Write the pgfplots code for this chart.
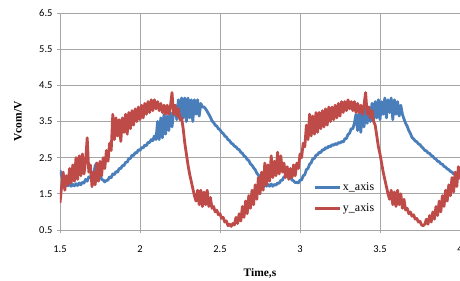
\documentclass[border=0pt]{standalone}
\usepackage{pgfplots}
\pgfplotsset{compat=1.18}
\usepackage{fontspec}
\setmainfont{Liberation Serif}
\newfontfamily\carlito{Carlito}
\definecolor{xblue}{HTML}{4A7EBB}
\definecolor{yred}{HTML}{BE4B48}
\definecolor{gridgray}{HTML}{A6A6A6}
\begin{document}
\begin{tikzpicture}
\begin{axis}[
  scale only axis, width=400bp, height=217bp,
  xmin=1.5, xmax=4, ymin=0.5, ymax=6.5,
  xtick={1.5,2,2.5,3,3.5,4}, ytick={0.5,1.5,2.5,3.5,4.5,5.5,6.5},
  xticklabels={1.5,2,2.5,3,3.5,4},
  yticklabels={0.5,1.5,2.5,3.5,4.5,5.5,6.5},
  grid=major, grid style={gridgray, line width=0.8bp},
  axis line style={gridgray, line width=0.8bp},
  tick style={gridgray, line width=0.8bp},
  tick align=outside, major tick length=3bp, tick pos=left,
  tick label style={font=\carlito\fontsize{10.5}{12}\selectfont, black},
  /pgf/number format/assume math mode=true,
  xticklabel style={yshift=-9bp},
  yticklabel style={xshift=-1bp},
  xlabel={\textbf{Time,s}}, ylabel={\textbf{Vcom/V}},
  every axis x label/.style={at={(rel axis cs:0.5,-0.198)}, anchor=center, font=\fontsize{11.5}{13}\selectfont},
  every axis y label/.style={at={(rel axis cs:-0.105,0.5)}, rotate=90, anchor=center, font=\fontsize{11.5}{13}\selectfont},
  legend style={draw=none, fill=none, at={(axis cs:3.08,1.39)}, anchor=west, inner sep=0pt,
    font=\fontsize{12}{14}\selectfont, row sep=8bp},
  legend cell align=left,
  legend image code/.code={\draw[#1, line width=3bp] (0bp,0bp) -- (25bp,0bp);},
]
\addplot[xblue, line width=2.8bp, line join=round] coordinates {
(1.50,2.15)(1.51,2.0)(1.52,1.85)(1.53,1.78)(1.54,1.74)(1.55,1.72)(1.56,1.78)(1.57,1.71)(1.58,1.76)(1.59,1.72)
(1.60,1.78)(1.61,1.73)(1.62,1.8)(1.63,1.75)(1.64,1.82)(1.65,1.8)(1.66,1.9)(1.67,1.85)(1.68,1.97)(1.69,1.95)
(1.70,2.08)(1.71,2.05)(1.72,2.28)(1.73,2.35)(1.74,2.15)(1.75,2.05)(1.76,1.9)(1.77,1.88)(1.78,1.83)(1.79,1.87)
(1.80,1.88)(1.81,1.97)(1.82,1.95)(1.83,2.05)(1.84,2.03)(1.85,2.12)(1.86,2.1)(1.87,2.2)(1.88,2.2)(1.89,2.28)
(1.90,2.28)(1.91,2.37)(1.92,2.38)(1.93,2.47)(1.94,2.48)(1.95,2.57)(1.96,2.56)(1.97,2.64)(1.98,2.63)(1.99,2.72)
(2.00,2.7)(2.01,2.78)(2.02,2.77)(2.03,2.85)(2.04,2.83)(2.05,2.92)(2.06,2.92)(2.07,3.0)(2.08,2.97)(2.09,3.1)
(2.10,3.0)(2.11,3.5)(2.12,3.0)(2.13,3.6)(2.14,3.05)(2.15,3.7)(2.16,3.15)(2.17,3.65)(2.18,3.25)(2.19,3.75)
(2.20,3.35)(2.21,3.75)(2.22,3.95)(2.23,3.55)(2.24,4.1)(2.25,3.6)(2.26,4.15)(2.27,3.6)(2.28,4.15)(2.29,3.5)
(2.30,4.15)(2.31,3.6)(2.32,4.1)(2.33,3.5)(2.34,4.1)(2.35,3.7)(2.36,4.1)(2.37,3.65)(2.38,4.0)(2.39,3.9)
(2.40,3.9)(2.41,3.85)(2.42,3.78)(2.43,3.7)(2.44,3.62)(2.45,3.52)(2.46,3.47)(2.47,3.4)(2.48,3.37)(2.49,3.3)
(2.50,3.27)(2.51,3.2)(2.52,3.17)(2.53,3.1)(2.54,3.07)(2.55,3.0)(2.56,2.97)(2.57,2.9)(2.58,2.88)(2.59,2.82)
(2.60,2.8)(2.61,2.74)(2.62,2.72)(2.63,2.65)(2.64,2.62)(2.65,2.55)(2.66,2.52)(2.67,2.45)(2.68,2.42)(2.69,2.33)
(2.70,2.29)(2.71,2.22)(2.72,2.17)(2.73,2.07)(2.74,2.02)(2.75,1.92)(2.76,1.86)(2.77,1.78)(2.78,1.76)(2.79,1.71)
(2.80,1.76)(2.81,1.71)(2.82,1.77)(2.83,1.71)(2.84,1.76)(2.85,1.74)(2.86,1.8)(2.87,1.79)(2.88,1.87)(2.89,1.88)
(2.90,1.97)(2.91,1.98)(2.92,2.04)(2.93,2.0)(2.94,1.97)(2.95,1.88)(2.96,1.86)(2.97,1.81)(2.98,1.82)(2.99,1.8)
(3.00,1.88)(3.01,1.88)(3.02,2.0)(3.03,2.03)(3.04,2.17)(3.05,2.2)(3.06,2.32)(3.07,2.36)(3.08,2.47)(3.09,2.48)
(3.10,2.57)(3.11,2.58)(3.12,2.65)(3.13,2.64)(3.14,2.72)(3.15,2.71)(3.16,2.78)(3.17,2.76)(3.18,2.82)(3.19,2.8)
(3.20,2.86)(3.21,2.84)(3.22,2.89)(3.23,2.86)(3.24,2.92)(3.25,2.9)(3.26,2.95)(3.27,2.93)(3.28,3.02)(3.29,3.03)
(3.30,3.14)(3.31,3.18)(3.32,3.3)(3.33,3.3)(3.34,3.45)(3.35,3.7)(3.36,3.25)(3.37,3.75)(3.38,3.2)(3.39,3.8)
(3.40,3.35)(3.41,3.85)(3.42,3.45)(3.43,3.9)(3.44,3.5)(3.45,4.0)(3.46,3.55)(3.47,4.05)(3.48,3.6)(3.49,4.1)
(3.50,3.55)(3.51,4.05)(3.52,3.7)(3.53,4.15)(3.54,3.6)(3.55,4.1)(3.56,3.75)(3.57,4.15)(3.58,3.55)(3.59,4.1)
(3.60,3.7)(3.61,4.05)(3.62,3.65)(3.63,3.95)(3.64,3.7)(3.65,3.57)(3.66,3.45)(3.67,3.37)(3.68,3.25)(3.69,3.17)
(3.70,3.06)(3.71,3.02)(3.72,2.96)(3.73,2.94)(3.74,2.88)(3.75,2.86)(3.76,2.8)(3.77,2.76)(3.78,2.7)(3.79,2.69)
(3.80,2.63)(3.81,2.62)(3.82,2.56)(3.83,2.54)(3.84,2.48)(3.85,2.46)(3.86,2.4)(3.87,2.39)(3.88,2.33)(3.89,2.32)
(3.90,2.26)(3.91,2.24)(3.92,2.19)(3.93,2.17)(3.94,2.12)(3.95,2.1)(3.96,2.05)(3.97,2.04)(3.98,1.98)(3.99,1.97)
(4.00,1.92)
};
\addlegendentry{x\_axis}
\addplot[yred, line width=2.8bp, line join=round] coordinates {
(1.50,1.25)(1.51,1.7)(1.52,2.1)(1.53,1.6)(1.54,2.0)(1.55,1.75)(1.56,2.2)(1.57,1.8)(1.58,2.3)(1.59,1.85)
(1.60,2.5)(1.61,1.9)(1.62,2.55)(1.63,2.0)(1.64,2.6)(1.65,2.05)(1.66,2.4)(1.67,3.05)(1.68,2.1)(1.69,2.3)
(1.70,1.7)(1.71,2.1)(1.72,1.75)(1.73,2.35)(1.74,1.85)(1.75,2.4)(1.76,2.0)(1.77,2.5)(1.78,2.2)(1.79,2.7)
(1.80,2.4)(1.81,2.9)(1.82,2.7)(1.83,3.7)(1.84,3.0)(1.85,3.6)(1.86,3.1)(1.87,3.55)(1.88,2.95)(1.89,3.6)
(1.90,3.2)(1.91,3.7)(1.92,3.15)(1.93,3.75)(1.94,3.3)(1.95,3.8)(1.96,3.4)(1.97,3.85)(1.98,3.5)(1.99,3.9)
(2.00,3.55)(2.01,3.95)(2.02,3.6)(2.03,4.0)(2.04,3.7)(2.05,4.05)(2.06,3.75)(2.07,4.1)(2.08,3.8)(2.09,4.1)
(2.10,3.85)(2.11,4.05)(2.12,3.8)(2.13,4.0)(2.14,3.75)(2.15,3.95)(2.16,3.7)(2.17,3.95)(2.18,3.7)(2.19,3.9)
(2.20,4.3)(2.21,3.7)(2.22,3.95)(2.23,3.65)(2.24,3.85)(2.25,3.55)(2.26,3.6)(2.27,3.3)(2.28,2.9)(2.29,2.6)
(2.30,2.3)(2.31,2.05)(2.32,1.85)(2.33,1.65)(2.34,1.45)(2.35,1.3)(2.36,1.6)(2.37,1.2)(2.38,1.6)(2.39,1.15)
(2.40,1.55)(2.41,1.2)(2.42,1.6)(2.43,1.15)(2.44,1.4)(2.45,1.1)(2.46,1.15)(2.47,1.0)(2.48,1.05)(2.49,0.92)
(2.50,0.95)(2.51,0.82)(2.52,0.85)(2.53,0.72)(2.54,0.75)(2.55,0.62)(2.56,0.66)(2.57,0.6)(2.58,0.68)(2.59,0.64)
(2.60,0.85)(2.61,0.68)(2.62,0.95)(2.63,0.75)(2.64,1.15)(2.65,0.85)(2.66,1.3)(2.67,0.95)(2.68,1.45)(2.69,1.1)
(2.70,1.6)(2.71,1.2)(2.72,1.75)(2.73,1.35)(2.74,1.95)(2.75,1.5)(2.76,2.1)(2.77,1.6)(2.78,2.35)(2.79,1.75)
(2.80,2.3)(2.81,1.85)(2.82,2.55)(2.83,1.95)(2.84,2.4)(2.85,2.0)(2.86,2.65)(2.87,2.05)(2.88,2.55)(2.89,2.1)
(2.90,2.35)(2.91,1.95)(2.92,2.25)(2.93,1.9)(2.94,2.2)(2.95,1.95)(2.96,2.3)(2.97,2.0)(2.98,2.35)(2.99,2.2)
(3.00,2.6)(3.01,2.5)(3.02,2.9)(3.03,2.8)(3.04,3.4)(3.05,3.0)(3.06,3.7)(3.07,3.1)(3.08,3.65)(3.09,3.15)
(3.10,3.75)(3.11,3.2)(3.12,3.75)(3.13,3.3)(3.14,3.8)(3.15,3.35)(3.16,3.85)(3.17,3.4)(3.18,3.9)(3.19,3.5)
(3.20,3.9)(3.21,3.55)(3.22,3.95)(3.23,3.6)(3.24,4.0)(3.25,3.65)(3.26,4.05)(3.27,3.75)(3.28,4.05)(3.29,3.8)
(3.30,4.1)(3.31,3.85)(3.32,4.05)(3.33,3.8)(3.34,4.05)(3.35,3.75)(3.36,4.0)(3.37,3.75)(3.38,3.95)(3.39,3.7)
(3.40,3.95)(3.41,4.3)(3.42,3.7)(3.43,3.9)(3.44,3.6)(3.45,3.8)(3.46,3.5)(3.47,3.4)(3.48,3.1)(3.49,2.8)
(3.50,2.6)(3.51,2.35)(3.52,2.1)(3.53,1.9)(3.54,1.7)(3.55,1.5)(3.56,1.35)(3.57,1.6)(3.58,1.2)(3.59,1.55)
(3.60,1.15)(3.61,1.6)(3.62,1.2)(3.63,1.5)(3.64,1.1)(3.65,1.35)(3.66,1.05)(3.67,1.1)(3.68,0.95)(3.69,1.0)
(3.70,0.88)(3.71,0.92)(3.72,0.8)(3.73,0.82)(3.74,0.72)(3.75,0.74)(3.76,0.64)(3.77,0.62)(3.78,0.66)(3.79,0.8)
(3.80,0.66)(3.81,0.9)(3.82,0.72)(3.83,1.0)(3.84,0.8)(3.85,1.15)(3.86,0.9)(3.87,1.3)(3.88,1.0)(3.89,1.45)
(3.90,1.15)(3.91,1.6)(3.92,1.3)(3.93,1.75)(3.94,1.45)(3.95,1.95)(3.96,1.55)(3.97,2.1)(3.98,1.7)(3.99,2.25)
(4.00,1.9)
};
\addlegendentry{y\_axis}
\end{axis}
\pgfresetboundingbox
\path[use as bounding box] (-60bp,-51bp) rectangle (400bp,230bp);
\end{tikzpicture}
\end{document}
